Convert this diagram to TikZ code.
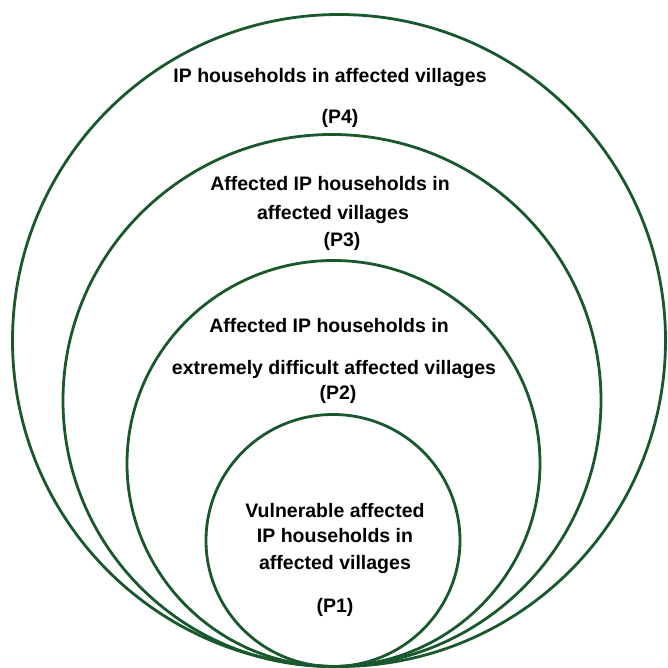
\documentclass[tikz,border=0pt]{standalone}
\usepackage{fontspec}
\setmainfont{Liberation Sans}
\definecolor{ringgreen}{RGB}{24,88,44}
\begin{document}
\begin{tikzpicture}[x=1pt,y=-1pt,
  ring/.style={draw=ringgreen,line width=2.8pt},
  lbl/.style={font=\fontsize{19.5}{22}\selectfont\bfseries,inner sep=0pt,text=black,
    text height=14pt,text depth=0pt}]
\useasboundingbox (0,0) rectangle (667,668);
\fill[white] (0,0) rectangle (667,668);
\draw[ring] (339,340.5) ellipse [x radius=326.5, y radius=326];
\draw[ring] (332,400.5) ellipse [x radius=269, y radius=266];
\draw[ring] (333.5,463.5) ellipse [x radius=206.5, y radius=203];
\draw[ring] (333,540.5) ellipse [x radius=127, y radius=126];
\node[lbl] (p4a) at (330,76) {IP households in affected villages};
\node[lbl] (p4b) at (340,117) {(P4)};
\node[lbl] (p3a) at (330,183) {Affected IP households in};
\node[lbl] (p3b) at (333,212) {affected villages};
\node[lbl] (p3c) at (342,239) {(P3)};
\node[lbl] (p2a) at (329,325) {Affected IP households in};
\node[lbl] (p2b) at (334,367) {extremely difficult affected villages};
\node[lbl] (p2c) at (338,392) {(P2)};
\node[lbl] (p1a) at (335,510) {Vulnerable affected};
\node[lbl] (p1b) at (335,535) {IP households in};
\node[lbl] (p1c) at (335,562) {affected villages};
\node[lbl] (p1d) at (335,605) {(P1)};
\end{tikzpicture}
\end{document}
